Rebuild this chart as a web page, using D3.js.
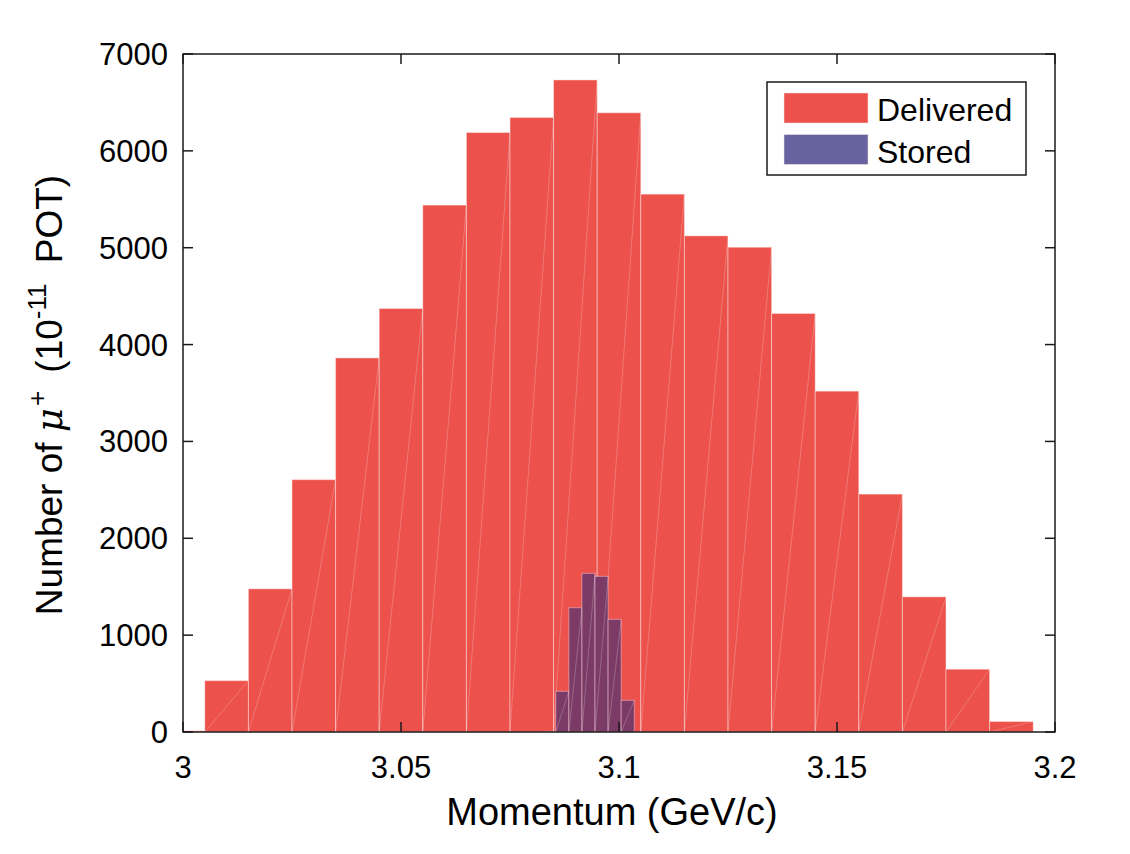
<!DOCTYPE html>
<html>
<head>
<meta charset="utf-8">
<script src="https://cdn.jsdelivr.net/npm/d3@7"></script>
<style>
  body { margin: 0; background: #fff; }
  text { font-family: "Liberation Sans", Arial, Helvetica, sans-serif; fill: #000; }
</style>
</head>
<body>
<script>
// Delivered muons, bins of 0.01 GeV/c (centres)
const deliveredCenters = [3.00, 3.01, 3.02, 3.03, 3.04, 3.05, 3.06, 3.07, 3.08, 3.09,
                          3.10, 3.11, 3.12, 3.13, 3.14, 3.15, 3.16, 3.17, 3.18, 3.19];
const deliveredCounts  = [12, 530, 1478, 2605, 3862, 4372, 5440, 6189, 6344, 6732,
                          6393, 5553, 5122, 5005, 4321, 3519, 2456, 1395, 648, 108];
const deliveredWidth = 0.01;

// Stored muons, bins of 0.003 GeV/c (centres)
const storedCenters = [3.084, 3.087, 3.090, 3.093, 3.096, 3.099, 3.102];
const storedCounts  = [6, 420, 1283, 1638, 1607, 1163, 327];
const storedWidth = 0.003;

const xTicks = [3, 3.05, 3.1, 3.15, 3.2];
const yTicks = [0, 1000, 2000, 3000, 4000, 5000, 6000, 7000];

const legendLabels = ["Delivered", "Stored"];

const width = 1130, height = 854;
const margin = { top: 54, right: 75, bottom: 122, left: 183 };
const red = "#ec524b", storedFill = "#7b3b66", storedLegend = "#6663a0";

const svg = d3.select("body").append("svg")
  .attr("width", width)
  .attr("height", height);

const x = d3.scaleLinear().domain([3, 3.2]).range([margin.left, width - margin.right]);
const y = d3.scaleLinear().domain([0, 7000]).range([height - margin.bottom, margin.top]);

svg.append("defs").append("clipPath").attr("id", "plotClip")
  .append("rect")
  .attr("x", x(3)).attr("y", y(7000))
  .attr("width", x(3.2) - x(3)).attr("height", y(0) - y(7000));

const plot = svg.append("g").attr("clip-path", "url(#plotClip)");

// draws one histogram series (bars + faint triangulation diagonals, as in the export)
function drawHist(centers, counts, w, fill, edge) {
  const bins = centers.map((c, i) => ({ x0: c - w / 2, x1: c + w / 2, v: counts[i] }));
  const g = plot.append("g");
  g.selectAll("rect").data(bins).enter().append("rect")
    .attr("x", d => x(d.x0))
    .attr("y", d => y(d.v))
    .attr("width", d => x(d.x1) - x(d.x0))
    .attr("height", d => y(0) - y(d.v))
    .attr("fill", fill)
    .attr("stroke", edge)
    .attr("stroke-width", 1);
  g.selectAll("line").data(bins).enter().append("line")
    .attr("x1", d => x(d.x0)).attr("y1", y(0))
    .attr("x2", d => x(d.x1)).attr("y2", d => y(d.v))
    .attr("stroke", "rgba(255,255,255,0.28)")
    .attr("stroke-width", 0.8);
}

drawHist(deliveredCenters, deliveredCounts, deliveredWidth, red, "rgba(255,235,235,0.45)");
drawHist(storedCenters, storedCounts, storedWidth, storedFill, "rgba(255,220,230,0.45)");

// axes box
const axisColor = "#1a1a1a";
const tickLen = 10;
const ax = svg.append("g");

ax.append("rect")
  .attr("x", x(3)).attr("y", y(7000))
  .attr("width", x(3.2) - x(3)).attr("height", y(0) - y(7000))
  .attr("fill", "none").attr("stroke", axisColor).attr("stroke-width", 1.5);

// x ticks (bottom + top, inward)
xTicks.forEach(t => {
  ax.append("line").attr("x1", x(t)).attr("x2", x(t))
    .attr("y1", y(0)).attr("y2", y(0) - tickLen)
    .attr("stroke", axisColor).attr("stroke-width", 1.5);
  ax.append("line").attr("x1", x(t)).attr("x2", x(t))
    .attr("y1", y(7000)).attr("y2", y(7000) + tickLen)
    .attr("stroke", axisColor).attr("stroke-width", 1.5);
  ax.append("text")
    .attr("x", x(t)).attr("y", y(0) + 46)
    .attr("text-anchor", "middle")
    .attr("font-size", 31)
    .text(d3.format("")(t));
});

// y ticks (left + right, inward)
yTicks.forEach(t => {
  ax.append("line").attr("x1", x(3)).attr("x2", x(3) + tickLen)
    .attr("y1", y(t)).attr("y2", y(t))
    .attr("stroke", axisColor).attr("stroke-width", 1.5);
  ax.append("line").attr("x1", x(3.2)).attr("x2", x(3.2) - tickLen)
    .attr("y1", y(t)).attr("y2", y(t))
    .attr("stroke", axisColor).attr("stroke-width", 1.5);
  ax.append("text")
    .attr("x", x(3) - 15).attr("y", y(t) + 11)
    .attr("text-anchor", "end")
    .attr("font-size", 31)
    .text(t);
});

// axis labels
svg.append("text")
  .attr("x", 612).attr("y", 825)
  .attr("text-anchor", "middle")
  .attr("font-size", 38)
  .text("Momentum (GeV/c)");

const yl = svg.append("text")
  .attr("transform", "translate(62, 395) rotate(-90)")
  .attr("text-anchor", "middle")
  .attr("font-size", 37);
yl.append("tspan").text("Number of ");
yl.append("tspan").attr("font-style", "italic").attr("font-family", "DejaVu Serif, serif").text("\u03bc");
yl.append("tspan").attr("font-size", 26).attr("dx", 2).attr("dy", -16).text("+");
yl.append("tspan").attr("dx", 8).attr("dy", 16).text(" (10");
yl.append("tspan").attr("font-size", 26).attr("dy", -16).text("-11");
yl.append("tspan").attr("dx", 10).attr("dy", 16).text(" POT)");

// legend
const lg = svg.append("g");
lg.append("rect")
  .attr("x", 767).attr("y", 82)
  .attr("width", 259).attr("height", 93)
  .attr("fill", "#fff").attr("stroke", axisColor).attr("stroke-width", 1.5);
const legendColors = [red, storedLegend];
legendLabels.forEach((lab, i) => {
  lg.append("rect")
    .attr("x", 784).attr("y", 93 + i * 41.5)
    .attr("width", 84).attr("height", 30)
    .attr("fill", legendColors[i])
    .attr("stroke", "rgba(255,230,230,0.5)");
  lg.append("text")
    .attr("x", 877).attr("y", 121 + i * 41.5)
    .attr("font-size", 32)
    .text(lab);
});
</script>
</body>
</html>
